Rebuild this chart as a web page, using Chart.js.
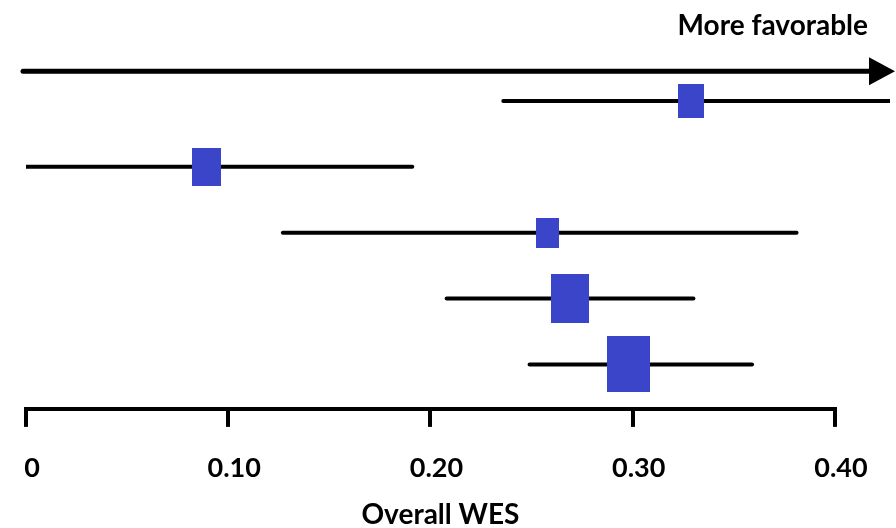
<!DOCTYPE html>
<html>
<head>
<meta charset="utf-8">
<script src="https://cdn.jsdelivr.net/npm/chart.js@4.4.1/dist/chart.umd.min.js"></script>
<style>
  html, body { margin: 0; padding: 0; background: #fff; }
  #wrap { width: 896px; height: 528px; }
</style>
</head>
<body>
<div id="wrap"><canvas id="forest"></canvas></div>
<script>
const rows = [1, 2, 3, 4, 5];
const estimate = [0.329, 0.089, 0.258, 0.269, 0.298];
const lower = [0.236, 0.0, 0.127, 0.208, 0.249];
const upper = [0.427, 0.191, 0.381, 0.330, 0.359];
const weight = [13.0, 16.0, 9.7, 26.6, 34.7];
const tickValues = [0, 0.1, 0.2, 0.3, 0.4];
const axisTitle = 'Overall WES';
const arrowLabel = 'More favorable';

const boxColor = '#3b45c9';
const font = 'Lato, "Open Sans", sans-serif';

// box per study, its area follows the weight
function boxImage(w) {
  const area = w * 69.3;
  const bw = Math.round(Math.sqrt(area / 1.3));
  const bh = Math.round(bw * 1.3);
  const c = document.createElement('canvas');
  c.width = bw;
  c.height = bh;
  const g = c.getContext('2d');
  g.fillStyle = boxColor;
  g.fillRect(0, 0, bw, bh);
  return c;
}
const boxes = weight.map(boxImage);

// axis line over the ticked range, the arrow and the two captions
const extras = {
  id: 'extras',
  afterDraw(chart) {
    const ctx = chart.ctx;
    const x = chart.scales.x;
    const y = chart.scales.y;
    ctx.save();
    ctx.strokeStyle = '#000';
    ctx.fillStyle = '#000';

    ctx.lineWidth = 4;
    ctx.lineCap = 'square';
    ctx.beginPath();
    ctx.moveTo(x.getPixelForValue(tickValues[0]), x.top);
    ctx.lineTo(x.getPixelForValue(tickValues[tickValues.length - 1]), x.top);
    ctx.stroke();

    const ay = y.getPixelForValue(0.55);
    const x0 = x.getPixelForValue(0) - 3;
    const x1 = chart.width - 1;
    ctx.lineWidth = 5;
    ctx.lineCap = 'round';
    ctx.beginPath();
    ctx.moveTo(x0, ay);
    ctx.lineTo(x1 - 14, ay);
    ctx.stroke();
    ctx.beginPath();
    ctx.moveTo(x1, ay);
    ctx.lineTo(x1 - 26, ay - 14);
    ctx.lineTo(x1 - 26, ay + 14);
    ctx.closePath();
    ctx.fill();

    ctx.font = 'bold 28px ' + font;
    ctx.textBaseline = 'alphabetic';
    ctx.textAlign = 'right';
    ctx.fillText(arrowLabel, 868, 35);
    ctx.textAlign = 'center';
    ctx.fillText(axisTitle, x.getPixelForValue(0.2) + 10, 524);
    ctx.restore();
  }
};

new Chart(document.getElementById('forest'), {
  type: 'scatter',
  data: {
    datasets: [
      {
        type: 'scatter',
        data: rows.map((r, i) => ({ x: estimate[i], y: r })),
        pointStyle: c => boxes[c.dataIndex],
        pointRadius: 5,
        order: 0
      },
      ...rows.map((r, i) => ({
        type: 'line',
        data: [{ x: lower[i], y: r }, { x: upper[i], y: r }],
        borderColor: '#000',
        borderWidth: 4,
        borderCapStyle: 'round',
        pointRadius: 0,
        order: 1
      }))
    ]
  },
  options: {
    responsive: true,
    maintainAspectRatio: false,
    animation: false,
    layout: { padding: { top: 68, left: 26, right: 0, bottom: 19 } },
    plugins: {
      legend: { display: false },
      tooltip: { enabled: false }
    },
    scales: {
      x: {
        type: 'linear',
        min: 0,
        max: 0.4272,
        border: { display: false },
        grid: { drawOnChartArea: false, drawTicks: true, tickLength: 18, color: '#000', lineWidth: 4 },
        afterBuildTicks: s => { s.ticks = tickValues.map(v => ({ value: v })); },
        ticks: {
          padding: 10,
          labelOffset: 6,
          color: '#000',
          autoSkip: false,
          maxRotation: 0,
          font: { family: font, size: 27, weight: 'bold', lineHeight: 2.3 },
          callback: v => v === 0 ? '0' : v.toFixed(2)
        }
      },
      y: { type: 'linear', display: false, reverse: true, min: 0.5, max: 5.675 }
    }
  },
  plugins: [extras]
});
</script>
</body>
</html>
